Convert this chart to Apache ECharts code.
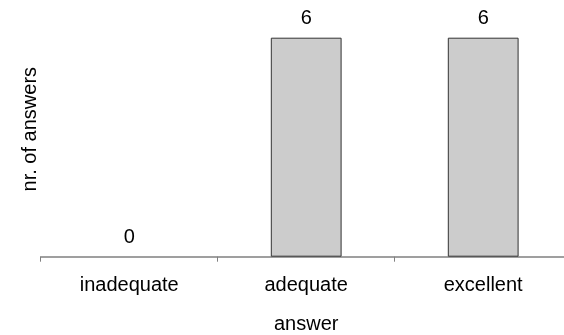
<!DOCTYPE html>
<html>
<head>
<meta charset="utf-8">
<script src="https://cdn.jsdelivr.net/npm/echarts@6/dist/echarts.min.js"></script>
<style>
  html, body { margin: 0; padding: 0; background: #fff; }
  #chart { width: 564px; height: 335px; }
</style>
</head>
<body>
<div id="chart"></div>
<script>
// Ratings and how many answers each got
const categories = ['inadequate', 'adequate', 'excellent'];
const counts = [0, 6, 6];

const FONT = '"Liberation Sans", Arial, sans-serif';

// An empty bar gets no outline, so nothing is drawn on the baseline for it
const barData = counts.map(v => ({
  value: v,
  itemStyle: { borderWidth: v === 0 ? 0 : 1 }
}));

const chart = echarts.init(document.getElementById('chart'), null, { renderer: 'canvas' });
chart.setOption({
  animation: false,
  backgroundColor: '#ffffff',
  grid: {
    left: 40.7, top: 37.7, bottom: 78.3, width: 531,
    containLabel: false, outerBoundsMode: 'none'
  },
  xAxis: {
    type: 'category',
    data: categories,
    name: 'answer',
    nameLocation: 'middle',
    nameGap: 58,
    nameTextStyle: { fontFamily: FONT, fontSize: 20, color: '#000' },
    axisLine: { show: true, lineStyle: { color: '#808080', width: 1.5 } },
    axisTick: { show: true, length: 5, lineStyle: { color: '#808080', width: 1 } },
    axisLabel: { margin: 19, fontFamily: FONT, fontSize: 20, color: '#000' },
    splitLine: { show: false }
  },
  yAxis: {
    type: 'value',
    min: 0,
    max: 6,
    name: 'nr. of answers',
    nameLocation: 'middle',
    nameGap: 0,
    nameTextStyle: { fontFamily: FONT, fontSize: 20, color: '#000', padding: [0, 0, 0, 36] },
    axisLine: { show: false },
    axisTick: { show: false },
    axisLabel: { show: false },
    splitLine: { show: false }
  },
  series: [{
    type: 'bar',
    data: barData,
    barWidth: '40%',
    itemStyle: { color: '#cccccc', borderColor: '#333333', borderWidth: 1 },
    label: {
      show: true,
      position: 'top',
      distance: 9,
      fontFamily: FONT,
      fontSize: 20,
      color: '#000'
    }
  }]
});
</script>
</body>
</html>
